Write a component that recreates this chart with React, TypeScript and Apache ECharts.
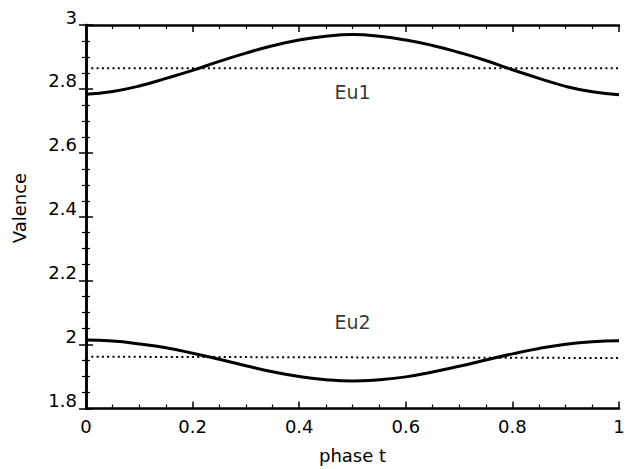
import React, { useEffect, useRef } from "react";
import * as echarts from "echarts";

const phase = [0, 0.05, 0.1, 0.15, 0.2, 0.25, 0.3, 0.35, 0.4, 0.45, 0.5, 0.55, 0.6, 0.65, 0.7, 0.75, 0.8, 0.85, 0.9, 0.95, 1];
const eu1 = [2.783, 2.792, 2.809, 2.833, 2.858, 2.886, 2.912, 2.935, 2.953, 2.965, 2.970, 2.965, 2.953, 2.936, 2.914, 2.889, 2.860, 2.833, 2.808, 2.791, 2.782];
const eu2 = [2.014, 2.011, 2.002, 1.990, 1.973, 1.954, 1.934, 1.915, 1.900, 1.890, 1.886, 1.890, 1.899, 1.914, 1.932, 1.952, 1.971, 1.988, 2.001, 2.009, 2.012];
const eu1Mean = [[0, 2.865], [1, 2.865]];
const eu2Mean = [[0, 1.962], [1, 1.958]];
const labelPoints = [
  { name: "Eu1", value: [0.5, 2.79] },
  { name: "Eu2", value: [0.5, 2.071] },
];

const FONT = "DejaVu Sans";

export default function App() {
  const ref = useRef<HTMLDivElement>(null);
  useEffect(() => {
    if (!ref.current) return;
    const chart = echarts.init(ref.current, null, { renderer: "svg" });
    const axisCommon = {
      axisLine: { show: true, lineStyle: { color: "#000000", width: 2.5 } },
      axisTick: { show: true, inside: true, length: 7, lineStyle: { color: "#000000", width: 1.5 } },
      minorTick: { show: true, splitNumber: 4, length: 4, lineStyle: { color: "#000000", width: 1.2 } },
      splitLine: { show: false },
      minorSplitLine: { show: false },
    };
    const xBase = { type: "value", min: 0, max: 1, interval: 0.2, ...axisCommon };
    const yBase = { type: "value", min: 1.8, max: 3, interval: 0.2, ...axisCommon };
    chart.setOption({
      animation: false,
      backgroundColor: "#ffffff",
      grid: { left: 86, top: 25, right: 9, bottom: 60.5, containLabel: false },
      xAxis: [
        {
          ...xBase,
          position: "bottom",
          axisLabel: { show: true, color: "#000000", fontFamily: FONT, fontSize: 18, margin: 9 },
        },
        { ...xBase, position: "top", axisLabel: { show: false } },
      ],
      yAxis: [
        {
          ...yBase,
          position: "left",
          axisLabel: {
            show: true,
            color: "#000000",
            fontFamily: FONT,
            fontSize: 18,
            margin: 9,
            verticalAlign: "bottom",
            lineHeight: 16,
          },
        },
        { ...yBase, position: "right", axisLabel: { show: false } },
      ],
      series: [
        {
          type: "line",
          data: phase.map((t, i) => [t, eu1[i]]),
          smooth: true,
          showSymbol: false,
          lineStyle: { color: "#000000", width: 3 },
        },
        {
          type: "line",
          data: phase.map((t, i) => [t, eu2[i]]),
          smooth: true,
          showSymbol: false,
          lineStyle: { color: "#000000", width: 3 },
        },
        {
          type: "line",
          data: eu1Mean,
          showSymbol: false,
          lineStyle: { color: "#000000", width: 2, type: [2, 3.3] },
        },
        {
          type: "line",
          data: eu2Mean,
          showSymbol: false,
          lineStyle: { color: "#000000", width: 2, type: [2, 3.3] },
        },
        {
          type: "scatter",
          symbolSize: 0,
          data: labelPoints,
          label: {
            show: true,
            position: "inside",
            formatter: (p: any) => p.name,
            color: "#000000",
            fontFamily: FONT,
            fontSize: 19,
          },
        },
      ],
      graphic: [
        {
          type: "text",
          x: 19.5,
          y: 208,
          rotation: Math.PI / 2,
          style: {
            text: "Valence",
            fill: "#000000",
            font: `18px '${FONT}'`,
            align: "center",
            verticalAlign: "middle",
          },
        },
        {
          type: "text",
          x: 352.5,
          y: 455,
          style: {
            text: "phase t",
            fill: "#000000",
            font: `18px '${FONT}'`,
            align: "center",
            verticalAlign: "middle",
          },
        },
      ],
    });
    return () => chart.dispose();
  }, []);
  return (
    <div
      ref={ref}
      style={{ position: "fixed", left: 0, top: 0, width: 628, height: 469, background: "#ffffff" }}
    />
  );
}
